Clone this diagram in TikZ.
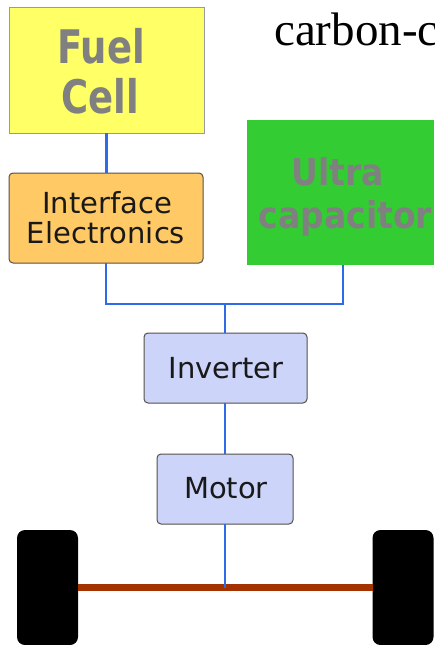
\documentclass[tikz,border=0pt]{standalone}
\usepackage{fontspec}
\setmainfont{DejaVu Sans}
\newfontfamily\serifcap{Liberation Serif}
\definecolor{fuelyellow}{HTML}{FFFF66}
\definecolor{fuelborder}{HTML}{9A9A9A}
\definecolor{ifaceorange}{HTML}{FFC966}
\definecolor{boxborder}{HTML}{55504A}
\definecolor{ultragreen}{HTML}{33CC33}
\definecolor{lavender}{HTML}{CCD4FA}
\definecolor{wireblue}{HTML}{2F6BE8}
\definecolor{axlebrown}{HTML}{A33200}
\definecolor{labelgray}{HTML}{808080}
\begin{document}
\begin{tikzpicture}[x=1pt,y=-1pt,
  blockbox/.style={rectangle, inner sep=0pt, outer sep=0pt},
  roundbox/.style={blockbox, rounded corners=4pt, draw=boxborder, line width=1pt},
  wire/.style={draw=wireblue, line width=2.6pt},
  bigbold/.style={anchor=base, inner sep=0pt, text=labelgray, font=\bfseries\fontsize{37}{44}\selectfont},
  ultrabold/.style={anchor=base, inner sep=0pt, text=labelgray, font=\bfseries\fontsize{33}{40}\selectfont},
  plainlabel/.style={anchor=base, inner sep=0pt, text=black!90, font=\fontsize{29}{34}\selectfont},
  wheelbox/.style={blockbox, fill=black, rounded corners=8pt, minimum width=61pt, minimum height=115pt}
]
\useasboundingbox (0,0) rectangle (434,645);
\fill[white] (0,0) rectangle (434,645);

% caption text (cut at the right edge)
\node[anchor=base west, inner sep=0pt, font=\serifcap\fontsize{47}{56}\selectfont] (cap) at (274,45) {carbon-c};

% blocks
\node[blockbox, fill=fuelyellow, draw=fuelborder, line width=1pt, minimum width=195pt, minimum height=126pt] (fuel) at (106.5,70) {};
\node[roundbox, fill=ifaceorange, minimum width=194pt, minimum height=90pt] (iface) at (106,218) {};
\node[blockbox, fill=ultragreen, minimum width=187pt, minimum height=145pt] (ultra) at (340.5,192.5) {};
\node[roundbox, fill=lavender, minimum width=163pt, minimum height=70pt] (inv) at (225.5,368) {};
\node[roundbox, fill=lavender, minimum width=136pt, minimum height=70pt] (motor) at (225,489) {};

% labels
\node[bigbold] (fuelA) at (101,63) {\scalebox{1}[1.25]{Fuel}};
\node[bigbold] (fuelB) at (100,113) {\scalebox{1}[1.25]{Cell}};
\node[plainlabel] (ifaceA) at (107,213) {Interface};
\node[plainlabel] (ifaceB) at (106,243) {Electronics};
\node[ultrabold] (ultraA) at (338,185) {\scalebox{1}[1.12]{Ultra}};
\node[ultrabold] (ultraB) at (345.5,228) {\scalebox{1}[1.12]{capacitor}};
\node[plainlabel] (invT) at (226,378) {Inverter};
\node[plainlabel] (motorT) at (226,498) {Motor};

% wheels and axle
\node[wheelbox] (lw) at (47.5,587.5) {};
\node[wheelbox] (rw) at (403,587.5) {};
\draw[axlebrown, line width=7pt] (lw.east) -- (rw.west);

% connectors
\coordinate (junc) at (225,304);
\draw[wire] (fuel.south) -- (fuel.south |- iface.north);
\draw[wire] (iface.south) |- (junc);
\draw[wire] ([xshift=2.5pt]ultra.south) |- (junc);
\draw[wire] (junc) -- (junc |- inv.north);
\draw[wire] (inv.south -| junc) -- (junc |- motor.north);
\draw[wire] (motor.south -| junc) -- (junc |- lw.east);
\end{tikzpicture}
\end{document}
